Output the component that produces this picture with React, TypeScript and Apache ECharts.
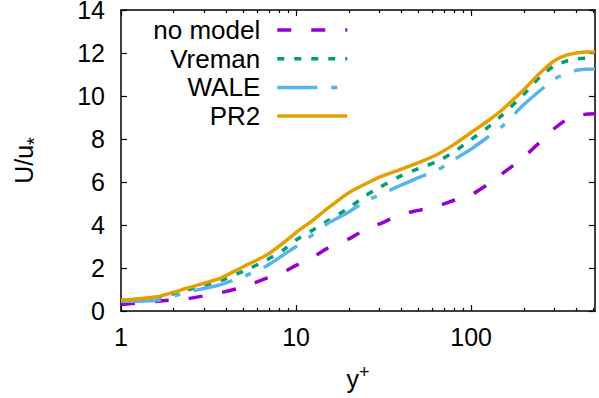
import React, { useEffect, useRef } from "react";
import * as echarts from "echarts";

// Wall-normal distance in wall units and mean velocity profiles
const yPlus = [1, 1.6, 2.4, 3.6, 5, 6.8, 8.5, 10, 12.5, 15, 20, 25, 30, 40, 50, 64, 80, 100, 125, 150, 200, 250, 300, 350, 400, 450, 510];
const noModel = [0.3, 0.45, 0.58, 0.83, 1.12, 1.53, 1.82, 2.12, 2.5, 2.9, 3.35, 3.8, 4.05, 4.5, 4.68, 4.88, 5.15, 5.4, 5.9, 6.38, 7.15, 7.9, 8.5, 8.9, 9.05, 9.15, 9.17];
const vreman = [0.5, 0.62, 0.98, 1.38, 1.85, 2.37, 2.85, 3.3, 3.77, 4.17, 4.79, 5.37, 5.75, 6.3, 6.62, 6.95, 7.4, 7.98, 8.55, 9.1, 10.08, 10.93, 11.42, 11.62, 11.72, 11.76, 11.78];
const wale = [0.45, 0.5, 0.88, 1.2, 1.6, 2.1, 2.62, 3.0, 3.56, 4.05, 4.6, 5.12, 5.4, 5.86, 6.2, 6.55, 7.05, 7.53, 8.1, 8.58, 9.6, 10.28, 10.8, 11.05, 11.2, 11.24, 11.25];
const pr2 = [0.5, 0.66, 1.07, 1.49, 2.06, 2.6, 3.18, 3.65, 4.23, 4.75, 5.5, 5.92, 6.23, 6.6, 6.9, 7.28, 7.75, 8.3, 8.85, 9.35, 10.3, 11.1, 11.65, 11.9, 12.0, 12.05, 12.05];

const seriesNames = ["no model", "Vreman", "WALE", "PR2"];
const xMajorTicks = [1, 10, 100];
const xMinorTicks = [2, 3, 4, 5, 6, 7, 8, 9, 20, 30, 40, 50, 60, 70, 80, 90, 200, 300, 400, 500];

const FONT = "'Liberation Sans', Arial, Helvetica, sans-serif";
const BLACK = "#000";

export default function App() {
  const ref = useRef<HTMLDivElement>(null);

  useEffect(() => {
    if (!ref.current) return;
    const chart = echarts.init(ref.current, null, { renderer: "svg" });

    const axisLine = { show: true, lineStyle: { color: BLACK, width: 1.5 } };
    const tickLine = { color: BLACK, width: 1.2 };

    const xBase = {
      type: "log" as const,
      logBase: 10,
      min: 1,
      max: 510,
      gridIndex: 0,
      splitLine: { show: false },
    };

    const pair = (xs: number[], ys: number[]) => xs.map((x, i) => [x, ys[i]]);

    const makeSeries = (name: string, ys: number[], color: string, dash: number[] | "solid") => ({
      name,
      type: "line",
      xAxisIndex: 0,
      yAxisIndex: 0,
      data: pair(yPlus, ys),
      symbol: "none",
      showSymbol: false,
      smooth: 0.2,
      color,
      lineStyle: { color, width: 3.5, type: dash, cap: "butt" },
      itemStyle: { color },
      emphasis: { disabled: true },
    });

    chart.setOption({
      animation: false,
      backgroundColor: "#fff",
      textStyle: { fontFamily: FONT },
      grid: { left: 121, right: 4, top: 10, bottom: 87, containLabel: false, outerBoundsMode: "none" },
      legend: {
        orient: "vertical",
        align: "right",
        right: 250,
        top: 17,
        padding: 0,
        itemGap: 2.7,
        itemWidth: 70,
        itemHeight: 20,
        selectedMode: false,
        data: seriesNames,
        itemStyle: { opacity: 0 },
        lineStyle: { width: 3.5 },
        textStyle: { fontSize: 26, lineHeight: 24, color: BLACK, fontFamily: FONT, padding: [0, 12, 0, 0] },
      },
      xAxis: [
        {
          ...xBase,
          position: "bottom",
          axisLine,
          axisTick: { show: true, inside: true, length: 6, lineStyle: tickLine, customValues: xMajorTicks },
          axisLabel: { show: true, customValues: xMajorTicks, fontSize: 25, color: BLACK, fontFamily: FONT, margin: 13 },
          name: "y{sup|+}",
          nameLocation: "middle",
          nameGap: 52,
          nameTextStyle: {
            fontSize: 25,
            color: BLACK,
            fontFamily: FONT,
            lineHeight: 32,
            rich: { sup: { fontSize: 18, lineHeight: 18, verticalAlign: "top", color: BLACK, fontFamily: FONT } },
          },
        },
        {
          ...xBase,
          position: "bottom",
          axisLine: { show: false },
          axisTick: { show: true, inside: true, length: 3, lineStyle: tickLine, customValues: xMinorTicks },
          axisLabel: { show: false },
        },
        {
          ...xBase,
          position: "top",
          axisLine,
          axisTick: { show: true, inside: true, length: 6, lineStyle: tickLine, customValues: xMajorTicks },
          axisLabel: { show: false },
        },
        {
          ...xBase,
          position: "top",
          axisLine: { show: false },
          axisTick: { show: true, inside: true, length: 3, lineStyle: tickLine, customValues: xMinorTicks },
          axisLabel: { show: false },
        },
      ],
      yAxis: [
        {
          type: "value",
          min: 0,
          max: 14,
          interval: 2,
          position: "left",
          axisLine,
          axisTick: { show: true, inside: true, length: 6, lineStyle: tickLine },
          axisLabel: { fontSize: 25, lineHeight: 19, color: BLACK, fontFamily: FONT, margin: 16 },
          splitLine: { show: false },
          name: "U/u{sub|*}",
          nameLocation: "middle",
          nameGap: 77,
          nameTextStyle: {
            fontSize: 25,
            color: BLACK,
            fontFamily: FONT,
            lineHeight: 40,
            rich: { sub: { fontSize: 20, lineHeight: 20, verticalAlign: "bottom", color: BLACK, fontFamily: FONT } },
          },
        },
        {
          type: "value",
          min: 0,
          max: 14,
          interval: 2,
          position: "right",
          axisLine,
          axisTick: { show: true, inside: true, length: 6, lineStyle: tickLine },
          axisLabel: { show: false },
          splitLine: { show: false },
        },
      ],
      series: [
        makeSeries(seriesNames[0], noModel, "#9400d3", [14, 20]),
        makeSeries(seriesNames[1], vreman, "#009e73", [7, 10]),
        makeSeries(seriesNames[2], wale, "#56b4e9", [40, 14, 6, 14]),
        makeSeries(seriesNames[3], pr2, "#e69f00", "solid"),
      ],
    });

    return () => chart.dispose();
  }, []);

  return (
    <div
      ref={ref}
      style={{ position: "fixed", left: 0, top: 0, width: 599, height: 398, background: "#fff" }}
    />
  );
}
